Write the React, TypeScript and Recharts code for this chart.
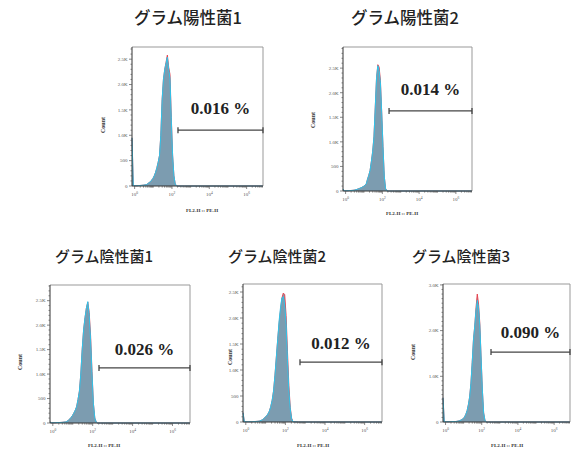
import React from 'react'
import { ComposedChart, Area, XAxis, YAxis, ReferenceLine } from 'recharts'

// 横軸: FL2-H のチャネル位置 (0-100, 対数スケール上の位置)
const bins = [0, 1, 2, 3, 4, 5, 6, 7, 8, 9, 10, 11, 12, 13, 14, 15, 16, 17, 18, 19, 20, 21, 22, 23, 24, 25, 26, 27, 28, 29, 30, 31, 32, 33, 34, 35, 36, 40, 100]

const pos1Red = [950, 10, 5, 5, 5, 8, 10, 12, 15, 18, 22, 28, 45, 65, 85, 115, 150, 200, 270, 360, 470, 600, 1000, 1700, 2100, 2300, 2440, 2580, 2340, 2200, 1350, 600, 200, 40, 5, 0, 0, 0, 0]
const pos1Blue = [950, 10, 5, 5, 5, 8, 10, 12, 15, 18, 22, 28, 45, 65, 85, 115, 150, 200, 270, 360, 470, 600, 1000, 1700, 2100, 2300, 2420, 2540, 2300, 2120, 1300, 600, 200, 40, 5, 0, 0, 0, 0]

const pos2Red = [40, 5, 5, 5, 6, 8, 10, 12, 15, 20, 25, 35, 45, 55, 65, 80, 95, 115, 140, 240, 320, 420, 600, 800, 1100, 1700, 2300, 2570, 2520, 2250, 1600, 900, 300, 50, 5, 0, 0, 0, 0]
const pos2Blue = [40, 5, 5, 5, 6, 8, 10, 12, 15, 20, 25, 35, 45, 55, 65, 80, 95, 115, 140, 240, 320, 420, 600, 800, 1100, 1700, 2300, 2550, 2450, 2200, 1600, 900, 300, 50, 5, 0, 0, 0, 0]

const neg1Red = [20, 5, 5, 5, 6, 8, 10, 10, 12, 15, 18, 22, 30, 50, 80, 110, 150, 200, 260, 330, 480, 650, 1000, 1500, 1900, 2150, 2350, 2470, 2260, 1780, 1050, 400, 100, 20, 0, 0, 0, 0, 0]
const neg1Blue = [20, 5, 5, 5, 6, 8, 10, 10, 12, 15, 18, 22, 30, 50, 80, 110, 150, 200, 260, 330, 480, 650, 1000, 1500, 1900, 2150, 2350, 2480, 2200, 1700, 1000, 400, 100, 20, 0, 0, 0, 0, 0]

const neg2Red = [180, 5, 5, 5, 5, 5, 5, 6, 8, 10, 12, 15, 20, 30, 45, 65, 90, 120, 160, 210, 300, 420, 600, 900, 1250, 1600, 1900, 2150, 2380, 2480, 2450, 2050, 1350, 700, 280, 70, 5, 0, 0]
const neg2Blue = [180, 5, 5, 5, 5, 5, 5, 6, 8, 10, 12, 15, 20, 30, 45, 65, 90, 120, 160, 210, 300, 420, 600, 900, 1250, 1600, 1950, 2200, 2390, 2410, 2250, 1900, 1200, 600, 250, 60, 5, 0, 0]

const neg3Red = [530, 5, 5, 5, 5, 6, 8, 8, 10, 10, 10, 15, 20, 30, 40, 55, 75, 110, 170, 250, 380, 550, 850, 1300, 1800, 2100, 2500, 2800, 2580, 2150, 1400, 700, 200, 40, 0, 0, 0, 0, 0]
const neg3Blue = [530, 5, 5, 5, 5, 6, 8, 8, 10, 10, 10, 15, 20, 30, 40, 55, 75, 110, 170, 250, 380, 550, 850, 1300, 1800, 2100, 2450, 2660, 2500, 2100, 1400, 700, 200, 40, 0, 0, 0, 0, 0]

const titles = ['グラム陽性菌1', 'グラム陽性菌2', 'グラム陰性菌1', 'グラム陰性菌2', 'グラム陰性菌3']
const gateLabels = ['0.016 %', '0.014 %', '0.026 %', '0.012 %', '0.090 %']
const gateStarts = [35.1, 35.7, 35, 41, 37.8]
const gateLevels = [1100, 1630, 1125, 1150, 1530]
const yMaxes = [2740, 2930, 2820, 2654, 3020]
const yMajorsSmall = [0, 500, 1000, 1500, 2000, 2500]
const yMajorsLarge = [0, 1000, 2000, 3000]
const xMajorTicks = [2, 30.5, 59, 87.5]
const xTickExponents = ['0', '2', '4', '6']

const series = [
  [pos1Red, pos1Blue],
  [pos2Red, pos2Blue],
  [neg1Red, neg1Blue],
  [neg2Red, neg2Blue],
  [neg3Red, neg3Blue],
]

// プロット枠の位置 (px)
const layout = [
  { left: 132, top: 47, w: 131, h: 139, titleX: 188, titleY: 17, titleSize: 16.5, countX: 103, countY: 125, xlabX: 202, xlabY: 210, labelOffset: 16 },
  { left: 343, top: 47, w: 129, h: 144, titleX: 405, titleY: 17, titleSize: 16.5, countX: 313, countY: 120, xlabX: 402, xlabY: 213, labelOffset: 15.5 },
  { left: 50, top: 285, w: 140, h: 138, titleX: 104, titleY: 255, titleSize: 15, countX: 20, countY: 362, xlabX: 104, xlabY: 445, labelOffset: 12.5 },
  { left: 243, top: 284, w: 139, h: 138, titleX: 277, titleY: 255, titleSize: 15, countX: 230, countY: 357, xlabX: 313, xlabY: 445, labelOffset: 13.5 },
  { left: 443, top: 284, w: 127, h: 138, titleX: 461, titleY: 255, titleSize: 15, countX: 413, countY: 352, xlabX: 507, xlabY: 445, labelOffset: 14.5 },
]

const DECADE = 14.25
const xMinorTicks: number[] = []
for (let d = 0; d < 7; d++) {
  for (let k = 2; k <= 10; k++) {
    const v = xMajorTicks[0] + DECADE * (d + Math.log10(k))
    if (v < 100 && !xMajorTicks.some(m => Math.abs(m - v) < 0.6)) xMinorTicks.push(+v.toFixed(2))
  }
}
const xTicks = [...xMajorTicks, ...xMinorTicks].sort((a, b) => a - b)

const fmtCount = (v: number) => (v === 0 ? '0' : v < 1000 ? String(v) : (v / 1000).toFixed(1) + 'K')

const YTick = ({ x, y, payload, majors }: any) => {
  const major = majors.includes(payload.value)
  return (
    <g>
      <line x1={x - (major ? 3 : 1.5)} x2={x} y1={y} y2={y} stroke="#555" strokeWidth={0.7} />
      {major && (
        <text x={x - 4.5} y={y + 1.8} textAnchor="end" fontSize={5} fill="#555" fontFamily="Liberation Serif">
          {fmtCount(payload.value)}
        </text>
      )}
    </g>
  )
}

const XTick = ({ x, y, payload }: any) => {
  const idx = xMajorTicks.indexOf(payload.value)
  const major = idx >= 0
  return (
    <g>
      <line x1={x} x2={x} y1={y} y2={y + (major ? 3 : 1.6)} stroke="#555" strokeWidth={0.7} />
      {major && (
        <text x={x} y={y + 10} textAnchor="middle" fontSize={5} fill="#555" fontFamily="Liberation Serif">
          10<tspan dy={-2} fontSize={3.5}>{xTickExponents[idx]}</tspan>
        </text>
      )}
    </g>
  )
}

function Histogram({ i }: { i: number }) {
  const L = layout[i]
  const [red, blue] = series[i]
  const data = bins.map((x, j) => ({ x, red: red[j], blue: blue[j] }))
  const yMax = yMaxes[i]
  const majors = i === 4 ? yMajorsLarge : yMajorsSmall
  const yTicks: number[] = []
  for (let v = 0; v <= yMax; v += 100) yTicks.push(v)
  const cap = (yMax * 3) / L.h
  const gs = gateStarts[i]
  const gl = gateLevels[i]

  return (
    <div style={{ position: 'absolute', left: L.left - 40, top: L.top - 10 }}>
      <ComposedChart width={L.w + 50} height={L.h + 40} data={data} margin={{ top: 10, right: 10, bottom: 0, left: 0 }}>
        <XAxis
          type="number"
          dataKey="x"
          domain={[0, 100]}
          ticks={xTicks}
          interval={0}
          height={30}
          tickSize={0}
          tickMargin={0}
          tickLine={false}
          axisLine={{ stroke: '#333', strokeWidth: 1 }}
          tick={(p: any) => <XTick {...p} />}
        />
        <YAxis
          type="number"
          domain={[0, yMax]}
          ticks={yTicks}
          interval={0}
          width={40}
          tickSize={0}
          tickMargin={0}
          tickLine={false}
          axisLine={{ stroke: '#333', strokeWidth: 1 }}
          tick={(p: any) => <YTick {...p} majors={majors} />}
        />
        <Area type="linear" dataKey="red" stroke="#e8434f" strokeWidth={1} fill="#80a0b3" fillOpacity={1} dot={false} activeDot={false} isAnimationActive={false} />
        <Area type="linear" dataKey="blue" stroke="#2ec4ea" strokeWidth={1} fill="#7c9cb0" fillOpacity={1} dot={false} activeDot={false} isAnimationActive={false} />
        <ReferenceLine y={yMax} stroke="#999" strokeWidth={1} />
        <ReferenceLine x={100} stroke="#999" strokeWidth={1} />
        <ReferenceLine
          segment={[{ x: gs, y: gl }, { x: 100, y: gl }]}
          stroke="#444"
          strokeWidth={1.3}
          label={{
            value: gateLabels[i],
            position: 'top',
            offset: L.labelOffset,
            fill: '#222',
            fontSize: 17,
            fontWeight: 'bold',
            fontFamily: 'Liberation Serif',
          }}
        />
        <ReferenceLine segment={[{ x: gs, y: gl - cap }, { x: gs, y: gl + cap }]} stroke="#444" strokeWidth={1.3} />
        <ReferenceLine segment={[{ x: 100, y: gl - cap }, { x: 100, y: gl + cap }]} stroke="#444" strokeWidth={1.3} />
      </ComposedChart>
    </div>
  )
}

export default function App() {
  return (
    <div style={{ position: 'absolute', left: 0, top: 0, width: 571, height: 450, overflow: 'hidden', background: '#fff' }}>
      {layout.map((L, i) => (
        <React.Fragment key={i}>
          <Histogram i={i} />
          <div
            style={{
              position: 'absolute',
              left: L.titleX,
              top: L.titleY,
              transform: 'translate(-50%, -50%)',
              whiteSpace: 'nowrap',
              fontFamily: '"Noto Sans CJK JP", sans-serif',
              fontWeight: 500,
              fontSize: L.titleSize,
              color: '#222',
            }}
          >
            {titles[i]}
          </div>
          <div
            style={{
              position: 'absolute',
              left: L.countX,
              top: L.countY,
              transform: 'translate(-50%, -50%) rotate(-90deg)',
              whiteSpace: 'nowrap',
              fontFamily: '"Liberation Serif", serif',
              fontWeight: 700,
              fontSize: 6,
              color: '#333',
            }}
          >
            Count
          </div>
          <div
            style={{
              position: 'absolute',
              left: L.xlabX,
              top: L.xlabY,
              transform: 'translate(-50%, -50%)',
              whiteSpace: 'nowrap',
              fontFamily: '"Liberation Serif", serif',
              fontWeight: 700,
              fontSize: 5,
              color: '#333',
            }}
          >
            FL2-H :: PE-H
          </div>
        </React.Fragment>
      ))}
    </div>
  )
}
